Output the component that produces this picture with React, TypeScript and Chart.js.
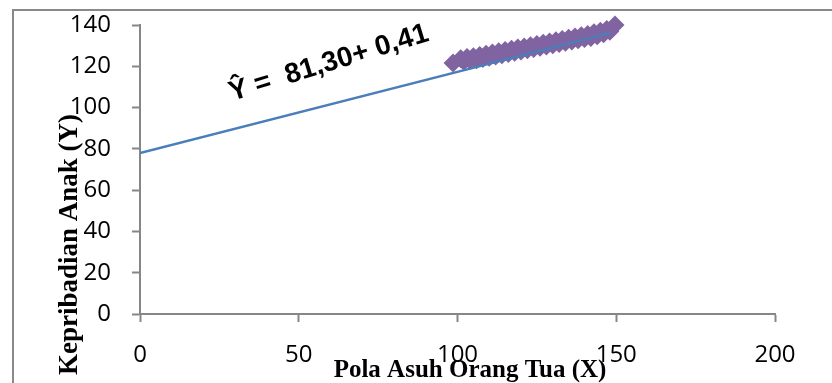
import React, { useEffect, useRef } from "react";
import { Chart, registerables } from "chart.js";

Chart.register(...registerables);

// ---- data ----
const xTickStep = 50;
const xMin = 0;
const xMax = 200;
const yTickStep = 20;
const yMin = 0;
const yMax = 140;

const scatterX = [
  98.6, 101, 102, 103, 104, 105, 106, 107, 108, 109, 110, 111, 112, 113, 114, 115, 116, 117,
  118, 119, 120, 121, 122, 123, 124, 125, 126, 127, 128, 129, 130, 131, 132, 133, 134, 135,
  136, 137, 138, 139, 140, 141, 142, 143, 144, 145, 146, 147, 148, 149.6,
];
const scatterY = [
  121.6, 123.6, 122.4, 124.2, 122.8, 124.6, 123.2, 125.2, 123.8, 125.8, 124.4, 126.4, 125.0,
  127.0, 125.6, 127.6, 126.2, 128.2, 126.8, 128.8, 127.4, 129.4, 128.0, 130.0, 128.6, 130.6,
  129.2, 131.2, 129.8, 131.8, 130.4, 132.4, 131.0, 133.0, 131.6, 133.6, 132.2, 134.2, 132.8,
  134.8, 133.4, 135.4, 134.0, 136.2, 134.8, 137.0, 135.8, 137.8, 137.0, 140.0,
];
const trendX = [0, 148];
const trendY = [78, 136.2];

const equationText = "Ŷ =  81,30+ 0,41";
const equationAt = { x: 29.0, y: 103.2 };
const xTitle = "Pola Asuh Orang Tua (X)";
const yTitle = "Kepribadian Anak (Y)";

const AXIS_GRAY = "#868686";

const overlayPlugin = {
  id: "overlay",
  beforeDraw(chart: any) {
    const ctx = chart.ctx;
    ctx.save();
    ctx.strokeStyle = "#898989";
    ctx.lineWidth = 2;
    ctx.strokeRect(13, 10, chart.width + 60, chart.height + 60);
    ctx.restore();
  },
  afterDraw(chart: any) {
    const ctx = chart.ctx;
    const area = chart.chartArea;
    const xs = chart.scales.x;
    const ys = chart.scales.y;
    ctx.save();
    ctx.fillStyle = "#000";

    // x title
    ctx.font = "bold 25px 'Liberation Serif', 'Times New Roman', serif";
    ctx.textAlign = "center";
    ctx.textBaseline = "alphabetic";
    ctx.fillText(xTitle, area.left + 330, area.bottom + 63);

    // y title
    ctx.save();
    ctx.translate(area.left - 63, area.top + 89);
    ctx.rotate(-Math.PI / 2);
    ctx.font = "bold 27px 'Liberation Serif', 'Times New Roman', serif";
    ctx.textAlign = "right";
    ctx.textBaseline = "alphabetic";
    ctx.fillText(yTitle, 0, 0);
    ctx.restore();

    // equation
    ctx.save();
    ctx.translate(xs.getPixelForValue(equationAt.x), ys.getPixelForValue(equationAt.y));
    ctx.rotate((-17 * Math.PI) / 180);
    ctx.font = "bold 28px 'Liberation Sans', Arial, sans-serif";
    ctx.textAlign = "left";
    ctx.textBaseline = "alphabetic";
    ctx.fillText(equationText, 0, 0);
    ctx.restore();

    ctx.restore();
  },
};

export default function App() {
  const ref = useRef<HTMLCanvasElement | null>(null);

  useEffect(() => {
    document.body.style.margin = "0";
    const canvas = ref.current;
    if (!canvas) return;
    const tickFont = { family: "'Open Sans', sans-serif", size: 24 };
    const chart = new Chart(canvas, {
      type: "scatter",
      data: {
        datasets: [
          {
            type: "line",
            label: "trend",
            data: trendX.map((x, i) => ({ x, y: trendY[i] })),
            borderColor: "#4A7EBB",
            borderWidth: 2.5,
            pointRadius: 0,
            fill: false,
          } as any,
          {
            type: "scatter",
            label: "data",
            data: scatterX.map((x, i) => ({ x, y: scatterY[i] })),
            pointStyle: "rectRot",
            pointRadius: 9.5,
            backgroundColor: "#8064A2",
            borderColor: "#8064A2",
            borderWidth: 0,
            clip: false,
          } as any,
        ],
      },
      options: {
        animation: false,
        responsive: false,
        devicePixelRatio: 1,
        layout: { padding: { top: 25, right: 57, left: 0, bottom: 0 } },
        plugins: { legend: { display: false }, tooltip: { enabled: false } },
        scales: {
          x: {
            type: "linear",
            min: xMin,
            max: xMax,
            ticks: { stepSize: xTickStep, font: tickFont, color: "#000", padding: 19 },
            grid: { drawOnChartArea: false, tickLength: 8, tickColor: AXIS_GRAY, tickWidth: 2 },
            border: { color: AXIS_GRAY, width: 2 },
            afterFit: (s: any) => {
              s.height = 69;
              s.paddingLeft = 0;
              s.paddingRight = 0;
            },
          },
          y: {
            type: "linear",
            min: yMin,
            max: yMax,
            ticks: { stepSize: yTickStep, font: tickFont, color: "#000", padding: 21 },
            grid: { drawOnChartArea: false, tickLength: 8, tickColor: AXIS_GRAY, tickWidth: 2 },
            border: { color: AXIS_GRAY, width: 2 },
            afterFit: (s: any) => {
              s.width = 140;
              s.paddingTop = 0;
              s.paddingBottom = 0;
            },
          },
        },
      } as any,
      plugins: [overlayPlugin],
    });
    return () => chart.destroy();
  }, []);

  return (
    <div style={{ width: 832, height: 383, background: "#fff", overflow: "hidden" }}>
      <canvas ref={ref} width={832} height={383} style={{ display: "block" }} />
    </div>
  );
}
